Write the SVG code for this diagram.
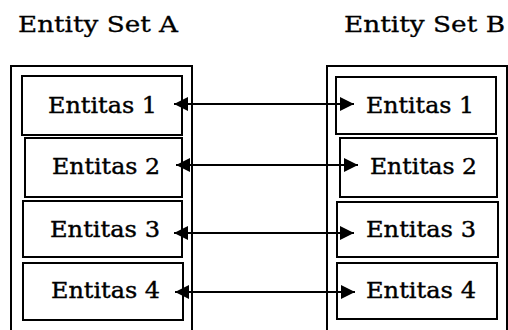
<svg xmlns="http://www.w3.org/2000/svg" width="508" height="330" viewBox="0 0 508 330">
<style>
.box{fill:#fff;stroke:#000;stroke-width:2}
.set{fill:none;stroke:#000;stroke-width:2}
.t{font-family:"DejaVu Serif","Liberation Serif",serif;font-size:22px;fill:#000;stroke:#000;stroke-width:0.4}
.h{font-family:"DejaVu Serif","Liberation Serif",serif;font-size:22px;fill:#000;stroke:#000;stroke-width:0.3}
.c{stroke:#000;stroke-width:2;fill:none;marker-start:url(#ah);marker-end:url(#ah)}
</style>
<defs>
<marker id="ah" viewBox="0 0 14 14" refX="14" refY="7" markerWidth="14" markerHeight="14" markerUnits="userSpaceOnUse" orient="auto-start-reverse">
<path d="M0,0 L14,7 L0,14 Z" fill="#000"/>
</marker>
</defs>
<text class="h" x="18" y="32" textLength="160" lengthAdjust="spacingAndGlyphs">Entity Set A</text>
<text class="h" x="344" y="32" textLength="161" lengthAdjust="spacingAndGlyphs">Entity Set B</text>
<g id="setA"><rect class="set" x="11" y="66" width="181" height="270"/></g>
<g id="setB"><rect class="set" x="327" y="66" width="180" height="270"/></g>
<g id="a1"><rect class="box" x="22" y="76" width="160" height="59"/><text class="t" x="48" y="113" textLength="109" lengthAdjust="spacingAndGlyphs">Entitas 1</text></g>
<g id="a2"><rect class="box" x="25" y="138" width="157" height="59"/><text class="t" x="52" y="174" textLength="108" lengthAdjust="spacingAndGlyphs">Entitas 2</text></g>
<g id="a3"><rect class="box" x="23" y="201" width="159" height="56"/><text class="t" x="50" y="237" textLength="110" lengthAdjust="spacingAndGlyphs">Entitas 3</text></g>
<g id="a4"><rect class="box" x="23" y="263" width="160" height="57"/><text class="t" x="51" y="298" textLength="109" lengthAdjust="spacingAndGlyphs">Entitas 4</text></g>
<g id="b1"><rect class="box" x="336" y="77" width="160" height="57"/><text class="t" x="366" y="113" textLength="108" lengthAdjust="spacingAndGlyphs">Entitas 1</text></g>
<g id="b2"><rect class="box" x="340" y="138" width="157" height="59"/><text class="t" x="370" y="174" textLength="107" lengthAdjust="spacingAndGlyphs">Entitas 2</text></g>
<g id="b3"><rect class="box" x="337" y="202" width="161" height="55"/><text class="t" x="366" y="237" textLength="110" lengthAdjust="spacingAndGlyphs">Entitas 3</text></g>
<g id="b4"><rect class="box" x="337" y="263" width="160" height="56"/><text class="t" x="366" y="298" textLength="110" lengthAdjust="spacingAndGlyphs">Entitas 4</text></g>
<g id="connectors">
<line class="c" x1="174" y1="104" x2="354" y2="104"/>
<line class="c" x1="176" y1="165" x2="358" y2="165"/>
<line class="c" x1="174" y1="233" x2="354" y2="233"/>
<line class="c" x1="175" y1="292" x2="355" y2="292"/>
</g>
</svg>
